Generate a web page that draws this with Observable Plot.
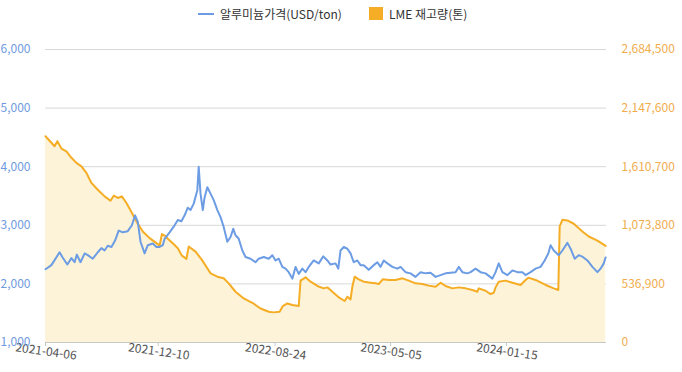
<!DOCTYPE html>
<html><head><meta charset="utf-8">
<script src="https://cdn.jsdelivr.net/npm/d3@7"></script>
<script src="https://cdn.jsdelivr.net/npm/@observablehq/plot@0.6"></script>
<style>
body{margin:0;background:#fff;font-family:"Noto Sans CJK KR","Noto Sans",sans-serif;}
#legend{position:relative;height:29px;width:682px;font-size:12px;color:#333;}
#legend .sw{position:absolute;}
#legend .lb{position:absolute;top:6px;line-height:16px;white-space:nowrap;}
#chart svg{display:block;}
</style></head><body>
<div id="legend"></div>
<div id="chart"></div>
<script>
const priceName = "알루미늄가격(USD/ton)";
const stockName = "LME 재고량(톤)";

const priceDates = ["2021-04-06","2021-04-19","2021-05-07","2021-05-13","2021-05-24","2021-06-02","2021-06-09","2021-06-14","2021-06-22","2021-07-01","2021-07-08","2021-07-19","2021-07-30","2021-08-07","2021-08-14","2021-08-21","2021-08-29","2021-09-06","2021-09-14","2021-09-23","2021-10-04","2021-10-13","2021-10-20","2021-10-26","2021-11-01","2021-11-10","2021-11-17","2021-11-28","2021-12-06","2021-12-13","2021-12-20","2021-12-24",
"2022-01-04","2022-01-15","2022-01-22","2022-01-30","2022-02-06","2022-02-13","2022-02-19","2022-02-26","2022-03-06","2022-03-09","2022-03-13","2022-03-18","2022-03-22","2022-03-28","2022-04-04","2022-04-11","2022-04-19","2022-04-26","2022-05-03","2022-05-11","2022-05-18","2022-05-24","2022-05-29","2022-06-05","2022-06-13","2022-06-20","2022-07-01","2022-07-12","2022-07-19","2022-07-30","2022-08-10","2022-08-18","2022-08-25","2022-09-01","2022-09-09","2022-09-16","2022-09-23","2022-10-01","2022-10-08","2022-10-15","2022-10-23","2022-10-30","2022-11-06","2022-11-17","2022-11-28","2022-12-08","2022-12-17","2022-12-24",
"2023-01-04","2023-01-10","2023-01-15","2023-01-22","2023-01-30","2023-02-06","2023-02-13","2023-02-21","2023-02-28","2023-03-07","2023-03-18","2023-03-29","2023-04-06","2023-04-13","2023-04-20","2023-04-28","2023-05-09","2023-05-20","2023-05-27","2023-06-07","2023-06-18","2023-06-29","2023-07-10","2023-07-21","2023-08-01","2023-08-12","2023-08-23","2023-09-03","2023-09-14","2023-09-25","2023-10-02","2023-10-10","2023-10-21","2023-10-28","2023-11-08","2023-11-19","2023-11-30","2023-12-15","2023-12-22","2023-12-29",
"2024-01-06","2024-01-17","2024-01-28","2024-02-08","2024-02-19","2024-02-26","2024-03-08","2024-03-19","2024-03-30","2024-04-08","2024-04-16","2024-04-21","2024-04-28","2024-05-09","2024-05-17","2024-05-28","2024-06-04","2024-06-13","2024-06-22","2024-07-01","2024-07-11","2024-07-22","2024-08-02","2024-08-09","2024-08-16","2024-08-20"];
const priceValues = [2250,2320,2540,2460,2330,2440,2370,2500,2370,2520,2490,2430,2540,2610,2570,2650,2630,2740,2910,2880,2900,3000,3170,3060,2720,2520,2660,2690,2630,2630,2660,2770,
2880,3000,3090,3070,3170,3300,3260,3370,3600,4000,3540,3260,3480,3650,3540,3430,3260,3140,2970,2720,2800,2940,2830,2770,2570,2460,2430,2370,2430,2460,2430,2490,2400,2430,2290,2260,2200,2090,2290,2170,2260,2200,2290,2400,2350,2470,2400,2330,
2350,2260,2570,2630,2600,2520,2370,2400,2320,2320,2240,2320,2370,2290,2400,2350,2290,2260,2290,2200,2180,2120,2200,2180,2190,2120,2150,2180,2190,2200,2290,2200,2180,2200,2260,2200,2180,2090,2200,2350,
2200,2150,2230,2200,2200,2150,2200,2260,2290,2400,2520,2660,2570,2490,2570,2700,2600,2430,2490,2460,2400,2290,2200,2260,2350,2450];

const stockDates = ["2021-04-06","2021-04-26","2021-05-02","2021-05-11","2021-05-22","2021-06-02","2021-06-13","2021-06-24","2021-07-05","2021-07-16","2021-07-30","2021-08-14","2021-08-27","2021-09-03","2021-09-12","2021-09-21","2021-10-01","2021-10-12","2021-10-23","2021-11-06","2021-11-21","2021-12-06","2021-12-13","2021-12-18","2021-12-24","2021-12-31",
"2022-01-11","2022-01-22","2022-01-31","2022-02-10","2022-02-15","2022-03-02","2022-03-16","2022-04-04","2022-04-19","2022-05-03","2022-05-14","2022-05-29","2022-06-16","2022-07-05","2022-07-23","2022-08-10","2022-08-21","2022-09-03","2022-09-10","2022-09-20","2022-10-01","2022-10-15","2022-10-19","2022-10-30","2022-11-10","2022-11-25","2022-12-09","2022-12-17","2022-12-24","2022-12-28",
"2023-01-11","2023-01-24","2023-01-30","2023-02-06","2023-02-10","2023-02-15","2023-02-24","2023-03-07","2023-03-22","2023-04-02","2023-04-09","2023-04-18","2023-05-01","2023-05-16","2023-05-31","2023-06-14","2023-06-29","2023-07-14","2023-07-28","2023-08-12","2023-08-23","2023-09-03","2023-09-18","2023-10-02","2023-10-17","2023-11-01","2023-11-12","2023-11-15","2023-11-30","2023-12-11","2023-12-18","2023-12-22","2023-12-29",
"2024-01-13","2024-01-28","2024-02-15","2024-02-26","2024-03-03","2024-03-19","2024-04-10","2024-04-28","2024-05-08","2024-05-11","2024-05-17","2024-05-28","2024-06-11","2024-06-30","2024-07-14","2024-08-02","2024-08-20"];
const stockValues = [1890000,1798000,1844000,1777000,1752000,1692000,1646000,1614000,1554000,1462000,1400000,1339000,1299000,1345000,1324000,1339000,1278000,1195000,1109000,1017000,956000,910000,888000,993000,980000,950000,
910000,864000,796000,766000,879000,833000,757000,634000,603000,588000,542000,465000,404000,364000,312000,282000,276000,282000,334000,358000,343000,334000,567000,597000,557000,518000,496000,505000,481000,465000,
414000,380000,419000,395000,511000,603000,579000,557000,548000,542000,536000,579000,573000,573000,588000,567000,542000,536000,521000,511000,548000,518000,496000,505000,496000,481000,465000,496000,474000,444000,456000,505000,557000,
567000,548000,527000,573000,594000,573000,527000,496000,481000,1063000,1124000,1118000,1088000,1017000,971000,934000,885000];

const xTickLabels = ["2021-04-06","2021-12-10","2022-08-24","2023-05-05","2024-01-15"];
const leftTicks = [1000,2000,3000,4000,5000,6000];
const rightTicks = [0,536900,1073800,1610700,2147600,2684500];
const xStart = "2021-04-06", xEnd = "2024-08-22";

const blue = "#6c9ce3", orange = "#f5ad25", cream = "#fdf3d8";
const stockMax = rightTicks[rightTicks.length-1];
const toLeft = s => leftTicks[0] + s / stockMax * (leftTicks[leftTicks.length-1] - leftTicks[0]);

const price = priceDates.map((d,i) => ({date: new Date(d), v: priceValues[i]}));
const stock = stockDates.map((d,i) => ({date: new Date(d), v: toLeft(stockValues[i])}));
const tickDates = xTickLabels.map(d => new Date(d));

// legend
const lg = document.getElementById("legend");
lg.innerHTML = `<div class="sw" style="left:198px;top:13px;width:16px;height:2px;background:${blue}"></div>
<span class="lb" style="left:220px">${priceName}</span>
<div class="sw" style="left:369px;top:7px;width:14px;height:13px;background:${orange}"></div>
<span class="lb" style="left:389px">${stockName}</span>`;

const fmt = d3.format(",");
const chart = Plot.plot({
  width: 682, height: 343,
  marginLeft: 45, marginRight: 76, marginTop: 20, marginBottom: 30,
  style: {fontFamily: '"Noto Sans CJK KR","Noto Sans",sans-serif', fontSize: "12px", background: "white", overflow: "visible"},
  x: {type: "utc", domain: [new Date(xStart), new Date(xEnd)]},
  y: {domain: [leftTicks[0], leftTicks[leftTicks.length-1]]},
  marks: [
    Plot.gridY(leftTicks, {stroke: "#d8d8d8", strokeOpacity: 1}),
    Plot.areaY(stock, {x: "date", y1: () => leftTicks[0], y2: "v", fill: cream}),
    Plot.line(stock, {x: "date", y: "v", stroke: orange, strokeWidth: 2}),
    Plot.line(price, {x: "date", y: "v", stroke: blue, strokeWidth: 2}),
    Plot.ruleY([leftTicks[0]], {stroke: "#c8c8c8"}),
    Plot.axisX({ticks: tickDates, tickSize: 4, tickFormat: () => "", stroke: "#c8c8c8", label: null}),
    Plot.text(tickDates, {x: d => d, frameAnchor: "bottom", text: (d, i) => xTickLabels[i], dy: 13, rotate: 8, fill: "#555", textAnchor: "middle"}),
    Plot.axisY({anchor: "left", ticks: leftTicks, tickSize: 0, tickPadding: 15, tickFormat: fmt, fill: "#6f9ae0", label: null}),
    Plot.axisY({anchor: "right", ticks: leftTicks, tickSize: 0, tickPadding: 15, tickFormat: (v) => fmt(rightTicks[leftTicks.indexOf(v)]), fill: "#f0ad4e", label: null})
  ]
});
document.getElementById("chart").appendChild(chart);
</script>
</body></html>
